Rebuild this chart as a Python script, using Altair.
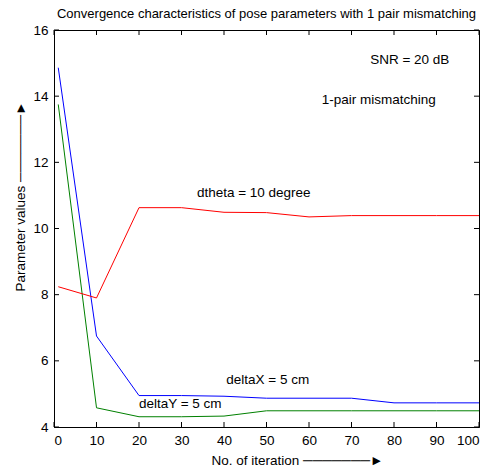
import altair as alt
import pandas as pd

# Iteration numbers at which the pose parameters were recorded
iterations = [1, 10, 20, 30, 40, 50, 60, 70, 80, 90, 100]

# Estimated pose parameters per iteration
delta_x = [14.86, 6.75, 4.95, 4.95, 4.93, 4.87, 4.87, 4.87, 4.73, 4.73, 4.73]
delta_y = [13.75, 4.58, 4.31, 4.31, 4.33, 4.49, 4.49, 4.49, 4.49, 4.49, 4.49]
dtheta = [8.24, 7.90, 10.63, 10.63, 10.49, 10.48, 10.35, 10.39, 10.39, 10.39, 10.39]

series_names = ["deltaX", "deltaY", "dtheta"]
series_colors = ["#0000ff", "#008000", "#ff0000"]

x_ticks = list(range(0, 101, 10))
y_ticks = list(range(4, 17, 2))

# Text placed inside the axes
note_text = ["SNR = 20 dB", "1-pair mismatching", "dtheta = 10 degree",
             "deltaX = 5 cm", "deltaY = 5 cm"]
note_x = [83.7, 76.4, 47.0, 50.3, 29.7]
note_y = [15.09, 13.88, 11.07, 5.42, 4.70]

FONT = "Liberation Sans"
FS = 13.5
W, H = 425, 397
X_DOM = [0, 100]
Y_DOM = [4, 16]
TICK_PX = 5
ARROW = "───────►"

rows = []
for name, vals in zip(series_names, [delta_x, delta_y, dtheta]):
    for it, v in zip(iterations, vals):
        rows.append({"iteration": it, "value": v, "series": name})
lines_df = pd.DataFrame(rows)

x_scale = alt.Scale(domain=X_DOM, nice=False, zero=False)
y_scale = alt.Scale(domain=Y_DOM, nice=False, zero=False)

lines = alt.Chart(lines_df).mark_line(strokeWidth=1).encode(
    x=alt.X("iteration:Q", scale=x_scale,
            axis=alt.Axis(values=x_ticks, title="No. of iteration  " + ARROW,
                          titleX=243, titleY=33, titleBaseline="middle",
                          titleAlign="center", labelPadding=6)),
    y=alt.Y("value:Q", scale=y_scale,
            axis=alt.Axis(values=y_ticks, title="Parameter values  " + ARROW,
                          titleX=-34, titleY=166, titleBaseline="middle",
                          titleAlign="center", titleAngle=270, labelPadding=6)),
    color=alt.Color("series:N", scale=alt.Scale(domain=series_names, range=series_colors),
                    legend=None),
    order=alt.Order("iteration:Q"),
)

# Inward tick marks on all four sides of the box
dx = TICK_PX * (X_DOM[1] - X_DOM[0]) / W
dy = TICK_PX * (Y_DOM[1] - Y_DOM[0]) / H
xt = pd.DataFrame(
    [{"x": t, "y": Y_DOM[0], "y2": Y_DOM[0] + dy} for t in x_ticks]
    + [{"x": t, "y": Y_DOM[1], "y2": Y_DOM[1] - dy} for t in x_ticks]
)
yt = pd.DataFrame(
    [{"y": t, "x": X_DOM[0], "x2": X_DOM[0] + dx} for t in y_ticks]
    + [{"y": t, "x": X_DOM[1], "x2": X_DOM[1] - dx} for t in y_ticks]
)
x_tick_marks = alt.Chart(xt).mark_rule(color="black", strokeWidth=1).encode(
    x=alt.X("x:Q", scale=x_scale), y=alt.Y("y:Q", scale=y_scale), y2="y2:Q")
y_tick_marks = alt.Chart(yt).mark_rule(color="black", strokeWidth=1).encode(
    y=alt.Y("y:Q", scale=y_scale), x=alt.X("x:Q", scale=x_scale), x2="x2:Q")

notes_df = pd.DataFrame({"x": note_x, "y": note_y, "text": note_text})
notes = alt.Chart(notes_df).mark_text(
    font=FONT, fontSize=FS, color="black", align="center", baseline="middle"
).encode(x=alt.X("x:Q", scale=x_scale), y=alt.Y("y:Q", scale=y_scale), text="text:N")

chart = alt.layer(lines, x_tick_marks, y_tick_marks, notes).properties(
    width=W, height=H,
    autosize=alt.AutoSizeParams(type="none"),
    padding={"left": 54, "top": 30, "right": 10, "bottom": 42},
    background="white",
    title=alt.TitleParams(
        "Convergence characteristics of pose parameters with 1 pair mismatching",
        font=FONT, fontSize=13, fontWeight="normal", color="black",
        anchor="middle", offset=2,
    ),
).configure_view(stroke="black", strokeWidth=1).configure_axis(
    labelFont=FONT, labelFontSize=FS, labelColor="black",
    titleFont=FONT, titleFontSize=FS, titleColor="black", titleFontWeight="normal",
    domainColor="black", domainWidth=1, ticks=False, grid=False,
)

chart.save("out.html", embed_options={"renderer": "svg", "actions": False})
